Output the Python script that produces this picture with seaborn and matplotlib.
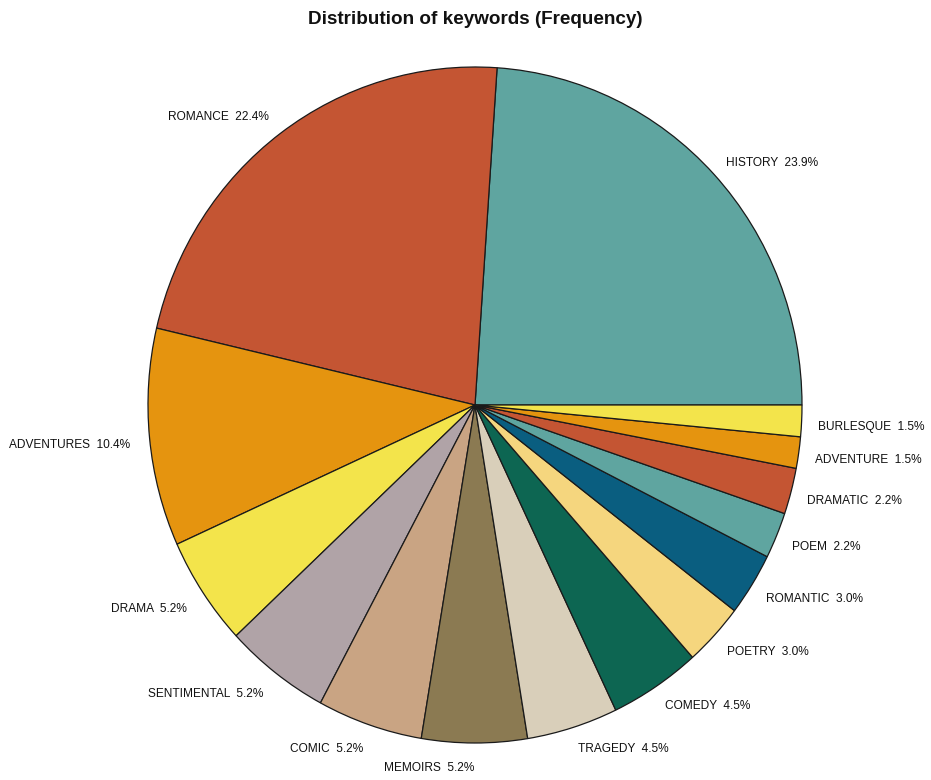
import numpy as np
import matplotlib
matplotlib.use("Agg")
import matplotlib.pyplot as plt
import seaborn as sns

categories = ["HISTORY", "ROMANCE", "ADVENTURES", "DRAMA", "SENTIMENTAL", "COMIC",
              "MEMOIRS", "TRAGEDY", "COMEDY", "POETRY", "ROMANTIC", "POEM",
              "DRAMATIC", "ADVENTURE", "BURLESQUE"]
percents = [23.9, 22.4, 10.4, 5.2, 5.2, 5.2, 5.2, 4.5, 4.5, 3.0, 3.0, 2.2, 2.2, 1.5, 1.5]
colors = ["#5FA5A0", "#C45533", "#E5940F", "#F3E44B", "#B0A3A7", "#C9A483",
          "#8B7A52", "#D9CFBA", "#0D6652", "#F5D67E", "#0A5E80", "#5FA5A0",
          "#C45533", "#E5940F", "#F3E44B"]
title = "Distribution of keywords (Frequency)"

sns.set_theme(style="white")
plt.rcParams["font.family"] = ["Liberation Sans", "DejaVu Sans"]

W, H = 931, 780
fig = plt.figure(figsize=(W / 100, H / 100), dpi=100)
cx, cy, rx, ry = 475, 405, 327, 338
ax = fig.add_axes([(cx - rx) / W, (H - cy - ry) / H, 2 * rx / W, 2 * ry / H])

pal = sns.color_palette(colors)
wedges, _ = ax.pie(percents, colors=pal, startangle=0, counterclock=True,
                   radius=1.0, center=(0, 0),
                   wedgeprops=dict(edgecolor="#1a1a1a", linewidth=0.9))
ax.set_aspect("auto")
ax.set_xlim(-1, 1)
ax.set_ylim(-1, 1)
ax.axis("off")

total = sum(percents)
cum = 0.0
for cat, p in zip(categories, percents):
    mid = 360.0 * (cum + p / 2) / total
    cum += p
    a = np.deg2rad(mid)
    c, s = np.cos(a), np.sin(a)
    r = 1.05 if c > 0 else 1.06
    x, y = r * c, r * s
    if s < 0:
        y -= 0.015
    ha = "left" if c > 0 else "right"
    ax.text(x, y, f"{cat}  {p:.1f}%", ha=ha, va="center", fontsize=8.6,
            color="#111111", clip_on=False)

fig.text(475 / W, 1 - 20 / H, title, ha="center", va="center",
         fontsize=13.6, fontweight="bold", color="#111111")

fig.savefig("out.png", dpi=100, facecolor="white")
